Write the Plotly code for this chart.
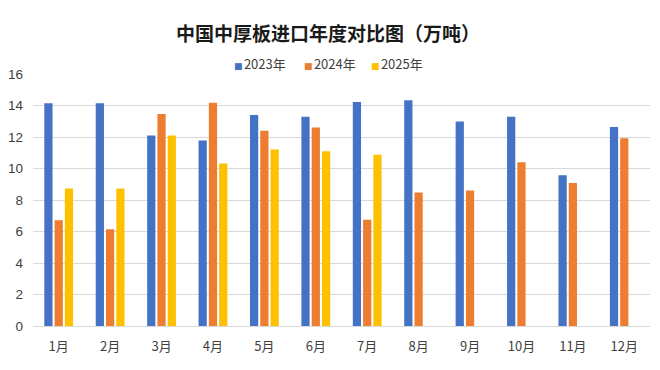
import plotly.graph_objects as go

months = ["1月", "2月", "3月", "4月", "5月", "6月", "7月", "8月", "9月", "10月", "11月", "12月"]
v2023 = [14.14, 14.14, 12.09, 11.77, 13.40, 13.29, 14.22, 14.33, 12.98, 13.29, 9.57, 12.63]
v2024 = [6.71, 6.14, 13.46, 14.18, 12.40, 12.60, 6.75, 8.47, 8.60, 10.39, 9.08, 11.92]
v2025 = [8.73, 8.73, 12.09, 10.31, 11.20, 11.09, 10.88, None, None, None, None, None]
series_names = ["2023年", "2024年", "2025年"]
colors = ["#4472C4", "#ED7D31", "#FFC000"]

font_cjk = "Noto Sans CJK SC, Noto Sans, sans-serif"

fig = go.Figure()
for name, vals, c in zip(series_names, [v2023, v2024, v2025], colors):
    fig.add_trace(go.Bar(x=months, y=vals, name=name, showlegend=False,
                         marker=dict(color=c, line=dict(width=0))))

# legend drawn as text items (square key + label), laid out like the original
legend_x = [0.3225, 0.4352, 0.5445]
for name, c, lx in zip(series_names, colors, legend_x):
    fig.add_annotation(
        xref="paper", yref="paper", x=lx, y=1.04, xanchor="left", yanchor="middle",
        showarrow=False,
        text=(f'<span style="color:{c};font-family:DejaVu Sans;font-size:9px">■</span>'
              f'<span style="font-size:6px"> </span>{name}'),
        font=dict(family=font_cjk, size=13, color="#404040"),
    )

fig.update_layout(
    width=660, height=370,
    margin=dict(l=25, r=18, t=66, b=52, autoexpand=False),
    paper_bgcolor="white", plot_bgcolor="white",
    barmode="group", bargap=0.4, bargroupgap=0.2,
    title=dict(text="<b>中国中厚板进口年度对比图（万吨）</b>", x=0.485, xanchor="center",
               y=0.930, yanchor="middle",
               font=dict(family=font_cjk, size=19, color="#1a1a1a")),
    font=dict(family=font_cjk, color="#404040"),
    showlegend=False,
)
fig.update_xaxes(showgrid=False, showline=True, linecolor="#d9d9d9", linewidth=1,
                 ticks="", ticklabelstandoff=8, tickfont=dict(size=13, color="#404040"),
                 automargin=False, fixedrange=True)
fig.update_yaxes(range=[0, 16], dtick=2, showgrid=True, gridcolor="#d9d9d9", gridwidth=1,
                 zeroline=False, showline=False, ticks="", ticklabelstandoff=9,
                 automargin=False,
                 tickfont=dict(family="Liberation Sans, sans-serif", size=13.5, color="#404040"))

fig.write_html("out.html")
